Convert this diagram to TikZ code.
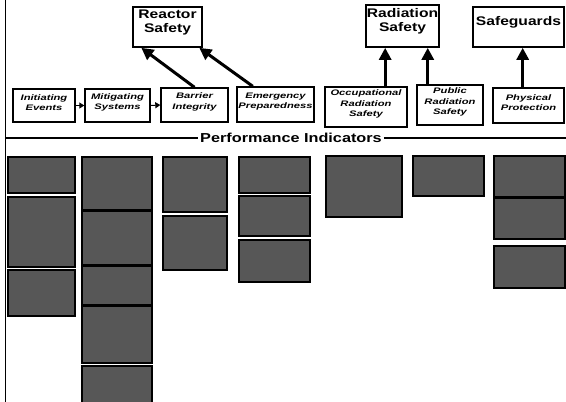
\documentclass[tikz,border=0pt]{standalone}
\usepackage{fontspec}
\setmainfont{Liberation Sans}
\newfontfamily\widebf[FakeStretch=1.25]{Liberation Sans}
\newfontfamily\widesm[FakeStretch=1.4]{Liberation Sans}
\usetikzlibrary{arrows.meta,fit,calc}
\tikzset{
  topbox/.style={draw=black, line width=1.7pt, fill=white, inner sep=0pt,
    font=\widebf\bfseries\fontsize{12.5}{14}\selectfont, align=center},
  lowbox/.style={draw=black, line width=1.4pt, fill=white, inner sep=0pt,
    font=\widesm\bfseries\itshape\fontsize{8}{10.5}\selectfont, align=center},
  gbox/.style={draw=black, line width=1.5pt, fill=black!66, inner sep=0pt},
  bigarrow/.style={line width=3pt, -{Triangle[width=12pt,length=12pt]}},
  smallarrow/.style={line width=1pt, -{Triangle[width=6pt,length=5pt]}},
  rule/.style={line width=2.2pt},
}
\begin{document}
\begin{tikzpicture}[x=1pt,y=-1pt]
\useasboundingbox (0,0) rectangle (566,402);
% left rule
\coordinate (ltop) at (5.5,0);
\coordinate (lbot) at (5.5,402);
\draw[line width=1.8pt] (ltop) -- (lbot);
% top boxes
\node[topbox, fit={(133,7) (202,47)}] (rs) {Reactor\\Safety};
\node[topbox, fit={(366,5) (439,47)}] (rad) {Radiation\\Safety};
\node[topbox, fit={(473,7) (564,47)}] (sg) {Safeguards};
% lower boxes
\node[lowbox, fit={(13,89) (75,122)}] (ie) {Initiating\\Events};
\node[lowbox, fit={(85,89) (150,122)}] (ms) {Mitigating\\Systems};
\node[lowbox, fit={(161,88) (228,122)}] (bi) {Barrier\\Integrity};
\node[lowbox, fit={(237,87) (314,122)}] (ep) {Emergency\\Preparedness};
\node[lowbox, fit={(325,87) (407,127)}] (or) {Occupational\\Radiation\\Safety};
\node[lowbox, fit={(417,85) (483,125)}] (pr) {Public\\Radiation\\Safety};
\node[lowbox, fit={(493,88) (564,123)}] (pp) {Physical\\Protection};
% small arrows
\draw[smallarrow] (ie.east) -- (ms.west);
\draw[smallarrow] (ms.east) -- (bi.west);
% big arrows
\coordinate (b1) at ($(bi.north west)!0.5!(bi.north east)$);
\coordinate (r1) at ($(rs.south west)!0.13!(rs.south east)$);
\coordinate (e1) at ($(ep.north west)!0.21!(ep.north east)$);
\coordinate (r2) at ($(rs.south west)!0.95!(rs.south east)$);
\draw[bigarrow] (b1) -- (r1);
\draw[bigarrow] (e1) -- (r2);
\coordinate (o1) at ($(or.north west)!0.73!(or.north east)$);
\coordinate (p1) at ($(pr.north west)!0.17!(pr.north east)$);
\coordinate (s1) at ($(pp.north west)!0.42!(pp.north east)$);
\draw[bigarrow] (o1) -- (o1 |- rad.south);
\draw[bigarrow] (p1) -- (p1 |- rad.south);
\draw[bigarrow] (s1) -- (s1 |- sg.south);
% performance indicators
\node[font=\widebf\bfseries\fontsize{13}{15}\selectfont, inner sep=2pt] (pi) at (291,138) {Performance Indicators};
\coordinate (pl) at (5.5,138);
\coordinate (prr) at (566,138);
\draw[rule] (pl) -- (pi.west);
\draw[rule] (pi.east) -- (prr);
% grey indicator boxes
\node[gbox, fit={(8,157) (75,193)}] (g11) {};
\node[gbox, fit={(8,197) (75,267)}] (g12) {};
\node[gbox, fit={(8,270) (75,316)}] (g13) {};
\node[gbox, fit={(82,157) (152,210)}] (g21) {};
\node[gbox, fit={(82,211) (152,265)}] (g22) {};
\node[gbox, fit={(82,266) (152,305)}] (g23) {};
\node[gbox, fit={(82,306) (152,363)}] (g24) {};
\node[gbox, fit={(82,366) (152,403)}] (g25) {};
\node[gbox, fit={(163,157) (227,212)}] (g31) {};
\node[gbox, fit={(163,216) (227,270)}] (g32) {};
\node[gbox, fit={(239,157) (310,193)}] (g41) {};
\node[gbox, fit={(239,196) (310,236)}] (g42) {};
\node[gbox, fit={(239,240) (310,282)}] (g43) {};
\node[gbox, fit={(326,156) (402,217)}] (g51) {};
\node[gbox, fit={(413,156) (484,196)}] (g61) {};
\node[gbox, fit={(494,156) (565,197)}] (g71) {};
\node[gbox, fit={(494,198) (565,239)}] (g72) {};
\node[gbox, fit={(494,246) (565,288)}] (g73) {};
\end{tikzpicture}
\end{document}
